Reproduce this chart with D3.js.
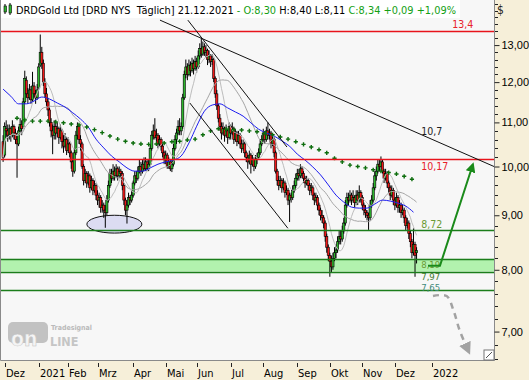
<!DOCTYPE html>
<meta charset="utf-8">
<title>DRDGold Ltd</title>
<style>
body { margin: 0; background: #f6efd9; }
svg { display: block; font-family: "DejaVu Sans Condensed", "DejaVu Sans", sans-serif; }
</style>
<body>
<script src="https://d3js.org/d3.v7.min.js"></script>
<script>

// daily candles [open, high, low, close], one array per month
var nov20 = [[10.55,10.70,10.10,10.20]];
var dec20 = [[10.25,11.00,10.20,10.90],[10.85,11.05,10.65,10.80],[10.80,10.95,10.55,10.70],[10.70,10.95,10.60,10.85],[10.85,10.90,10.55,10.70],
  [10.70,11.05,10.65,10.90],[10.90,10.95,10.60,10.75],[10.75,10.85,10.50,10.60],[10.60,10.75,9.76,10.50],[10.50,10.90,10.45,10.80],
  [10.80,11.10,10.75,10.95],[10.95,11.05,10.70,10.85],[10.90,11.60,10.85,11.50],[11.50,12.30,11.45,12.10],[12.05,12.15,11.60,11.70],
  [11.70,11.85,11.45,11.60],[11.60,11.95,11.55,11.80],[11.80,11.90,11.45,11.55],[11.55,12.27,11.50,11.90],[11.90,12.00,11.60,11.70],
  [11.70,11.80,11.45,11.60],[11.60,11.95,11.55,11.80]];
var jan21 = [[11.85,12.50,11.80,12.40],[12.45,13.30,12.40,12.80],[12.80,12.95,12.35,12.50],[12.50,12.60,11.90,12.00],[12.00,12.10,11.60,11.70],
  [11.70,11.85,11.40,11.50],[11.50,11.60,11.15,11.30],[11.30,11.35,10.90,11.00],[11.00,11.10,10.65,10.80],[10.80,10.95,10.27,10.70],
  [10.70,11.05,10.60,10.90],[10.90,11.00,10.60,10.75],[10.75,11.00,10.65,10.85],[10.85,10.90,10.50,10.65],[10.65,10.95,10.60,10.80],
  [10.80,10.85,10.40,10.55],[10.55,10.70,10.30,10.45],[10.45,10.75,10.40,10.60],[10.60,10.65,10.25,10.35]];
var feb21 = [[10.35,10.65,10.30,10.50],[10.50,10.55,10.20,10.30],[10.30,10.35,9.95,10.10],[10.10,10.15,9.78,9.90],[9.90,10.40,9.85,10.30],
  [10.30,10.80,10.25,10.70],[10.70,11.00,10.60,10.90],[10.90,10.95,10.50,10.60],[10.60,10.70,10.35,10.50],[10.50,10.55,9.95,10.00],
  [10.00,10.05,9.60,9.70],[9.70,9.95,9.65,9.85],[9.85,9.90,9.55,9.65],[9.65,9.90,9.60,9.80],[9.80,9.85,9.45,9.55],
  [9.55,9.80,9.50,9.70],[9.70,9.75,9.40,9.50],[9.50,9.70,9.45,9.60],[9.60,9.65,9.30,9.40]];
var mar21 = [[9.40,9.50,9.20,9.30],[9.30,9.45,9.15,9.35],[9.35,9.40,9.05,9.15],[9.15,9.30,9.05,9.20],[9.20,9.25,8.95,9.10],
  [9.10,9.20,8.76,9.05],[9.05,9.40,9.00,9.30],[9.30,9.70,9.25,9.60],[9.60,9.95,9.55,9.85],[9.85,9.95,9.65,9.75],
  [9.75,10.05,9.70,9.90],[9.90,10.00,9.70,9.80],[9.80,10.05,9.75,9.95],[9.95,10.00,9.70,9.80],[9.80,10.00,9.75,9.90],
  [9.90,9.95,9.75,9.85],[9.85,9.90,9.50,9.60],[9.60,9.65,9.20,9.30],[9.30,9.35,9.00,9.10],[9.10,9.30,8.84,9.20],
  [9.20,9.45,9.15,9.35],[9.35,9.40,9.20,9.30],[9.30,9.50,9.25,9.40]];
var apr21 = [[9.40,9.70,9.35,9.65],[9.65,9.90,9.60,9.80],[9.80,9.90,9.65,9.75],[9.75,10.00,9.70,9.90],[9.90,10.15,9.85,10.00],
  [10.00,10.10,9.80,9.90],[9.90,10.15,9.85,10.05],[10.05,10.20,9.90,9.95],[9.95,10.20,9.90,10.10],[10.10,10.15,9.90,9.95],
  [9.95,10.15,9.90,10.05],[10.05,10.50,10.00,10.40],[10.40,10.80,10.35,10.70],[10.70,10.95,10.60,10.80],[10.80,11.10,10.60,10.65],
  [10.65,10.85,10.55,10.70],[10.70,10.75,10.40,10.50],[10.50,10.70,10.45,10.60],[10.60,10.65,10.35,10.45],[10.45,10.50,10.20,10.30],
  [10.30,10.35,10.05,10.15]];
var may21 = [[10.15,10.35,10.05,10.25],[10.25,10.30,9.95,10.00],[10.00,10.20,9.95,10.10],[10.10,10.15,9.90,9.95],[9.95,10.15,9.88,10.05],
  [10.05,10.50,10.00,10.40],[10.40,10.70,10.35,10.60],[10.60,10.85,10.50,10.75],[10.75,11.05,10.70,10.90],[10.90,11.10,10.70,10.80],
  [10.80,11.00,10.70,10.90],[10.90,11.70,10.85,11.60],[11.60,12.30,11.55,12.20],[12.20,12.60,12.10,12.40],[12.40,12.50,12.05,12.20],
  [12.20,12.60,12.15,12.45],[12.45,12.55,12.15,12.30],[12.30,12.65,12.25,12.50],[12.50,12.60,12.20,12.35],[12.35,12.70,12.30,12.55]];
var jun21 = [[12.55,12.65,12.25,12.40],[12.40,12.85,12.35,12.70],[12.70,13.05,12.60,12.90],[12.90,13.20,12.65,12.75],[12.75,13.10,12.70,12.95],
  [12.95,13.05,12.70,12.80],[12.80,13.00,12.65,12.85],[12.85,12.90,12.45,12.60],[12.60,12.85,12.50,12.70],[12.70,12.75,12.40,12.55],
  [12.55,12.75,12.45,12.60],[12.60,12.65,12.00,12.10],[12.10,12.15,11.60,11.70],[11.70,11.80,11.30,11.40],[11.40,11.45,11.00,11.10],
  [11.10,11.20,10.80,10.90],[10.90,11.00,10.60,10.75],[10.75,11.00,10.70,10.85],[10.85,10.90,10.55,10.70],[10.70,10.95,10.65,10.80],
  [10.80,10.85,10.50,10.65],[10.65,11.00,10.60,10.90]];
var jul21 = [[10.90,10.95,10.60,10.75],[10.75,11.00,10.70,10.85],[10.85,10.90,10.50,10.60],[10.60,10.85,10.55,10.75],[10.75,10.80,10.45,10.55],
  [10.55,10.80,10.50,10.70],[10.70,10.75,10.40,10.50],[10.50,10.60,10.30,10.40],[10.40,10.60,10.35,10.50],[10.50,10.55,10.20,10.30],
  [10.30,10.35,10.10,10.20],[10.20,10.25,9.95,10.10],[10.10,10.35,10.05,10.25],[10.25,10.30,9.85,10.05],[10.05,10.25,10.00,10.15],
  [10.15,10.20,9.90,10.00],[10.00,10.25,9.95,10.15],[10.15,10.30,10.05,10.20],[10.20,10.40,10.15,10.30],[10.30,10.60,10.25,10.50],
  [10.50,10.70,10.45,10.60]];
var aug21 = [[10.60,10.85,10.55,10.75],[10.75,10.80,10.50,10.60],[10.60,10.90,10.55,10.80],[10.80,11.00,10.60,10.70],[10.70,10.85,10.60,10.75],
  [10.75,10.80,10.40,10.50],[10.50,10.70,10.45,10.60],[10.60,10.65,10.20,10.30],[10.30,10.35,9.85,9.90],[9.90,9.95,9.60,9.70],
  [9.70,9.80,9.50,9.60],[9.60,9.80,9.55,9.70],[9.70,9.75,9.45,9.55],[9.55,9.75,9.50,9.65],[9.65,9.70,9.35,9.45],
  [9.45,9.60,9.40,9.50],[9.50,9.55,9.20,9.30],[9.30,9.45,8.87,9.40],[9.40,9.45,9.25,9.35],[9.35,9.60,9.30,9.50],
  [9.50,9.70,9.45,9.60],[9.60,9.85,9.55,9.75]];
var sep21 = [[9.75,9.95,9.70,9.85],[9.85,9.95,9.70,9.80],[9.80,10.05,9.75,9.95],[9.95,10.00,9.75,9.85],[9.85,9.90,9.65,9.75],
  [9.75,9.80,9.55,9.65],[9.65,9.80,9.60,9.70],[9.70,9.75,9.50,9.60],[9.60,9.65,9.40,9.50],[9.50,9.65,9.45,9.55],
  [9.55,9.60,9.30,9.40],[9.40,9.45,9.20,9.30],[9.30,9.45,9.25,9.35],[9.35,9.40,9.10,9.20],[9.20,9.25,9.00,9.10],
  [9.10,9.15,8.90,9.00],[9.00,9.10,8.85,8.95],[8.95,9.00,8.75,8.85],[8.85,8.90,8.50,8.60],[8.60,8.65,8.30,8.40],
  [8.40,8.45,8.15,8.25]];
var oct21 = [[8.25,8.30,7.88,8.15],[8.15,8.25,7.95,8.05],[8.05,8.30,8.00,8.20],[8.20,8.40,8.15,8.30],[8.30,8.45,8.20,8.35],
  [8.35,8.60,8.30,8.50],[8.50,8.70,8.45,8.60],[8.60,8.70,8.45,8.55],[8.55,8.80,8.50,8.70],[8.70,8.95,8.65,8.85],
  [8.85,9.30,8.80,9.20],[9.20,9.45,9.15,9.35],[9.35,9.45,9.20,9.30],[9.30,9.50,9.25,9.40],[9.40,9.45,9.20,9.30],
  [9.30,9.50,9.25,9.35],[9.35,9.40,9.15,9.25],[9.25,9.50,9.20,9.40],[9.40,9.50,9.20,9.30],[9.30,9.60,9.25,9.45],
  [9.45,9.50,9.25,9.35]];
var nov21 = [[9.35,9.40,9.10,9.20],[9.20,9.25,9.00,9.10],[9.10,9.20,8.95,9.05],[9.05,9.10,8.90,9.00],[9.00,9.05,8.72,8.95],
  [8.95,9.30,8.90,9.20],[9.20,9.40,9.15,9.30],[9.30,9.65,9.25,9.55],[9.55,9.90,9.50,9.80],[9.80,10.00,9.70,9.90],
  [9.90,10.15,9.85,10.05],[10.05,10.15,9.90,10.00],[10.00,10.22,9.95,10.10],[10.10,10.15,9.85,9.90],[9.90,9.95,9.65,9.75],
  [9.75,9.95,9.70,9.85],[9.85,9.90,9.55,9.65],[9.65,9.70,9.45,9.55],[9.55,9.60,9.30,9.40],[9.40,9.60,9.35,9.50],
  [9.50,9.55,9.20,9.30]];
var dec21 = [[9.30,9.35,9.10,9.20],[9.20,9.45,9.15,9.35],[9.35,9.40,9.05,9.15],[9.15,9.30,9.05,9.20],[9.20,9.25,8.95,9.05],
  [9.05,9.20,9.00,9.10],[9.10,9.15,8.85,8.95],[8.95,9.00,8.70,8.80],[8.80,8.95,8.75,8.85],[8.85,8.90,8.55,8.65],
  [8.65,8.70,8.40,8.50],[8.50,8.55,8.20,8.30],[8.30,8.75,8.25,8.45],[8.45,8.50,7.88,8.25],[8.30,8.40,8.11,8.34]];

// blue average, read every 5 sessions from the first one
var blueAvg = [11.82,11.64,11.45,11.45,11.52,11.62,11.57,11.47,11.37,11.23,11.08,10.89,10.61,10.41,10.23,10.10,9.97,9.90,9.90,9.97,
  10.05,10.10,10.14,10.23,10.52,10.91,11.27,11.42,11.45,11.35,11.25,11.15,10.99,10.84,10.75,10.68,10.57,10.45,10.27,10.14,
  9.99,9.82,9.61,9.40,9.26,9.16,9.14,9.14,9.22,9.30,9.28,9.24,9.18,9.06];
// dotted green average, one cross every 5 sessions from session 9
var greenAvg = [11.10,11.06,11.03,11.03,11.03,11.01,10.99,10.96,10.94,10.89,10.83,10.76,10.68,10.61,10.56,10.52,10.50,10.49,10.50,10.52,
  10.55,10.56,10.59,10.61,10.71,10.80,10.85,10.84,10.83,10.82,10.80,10.78,10.75,10.71,10.66,10.61,10.55,10.49,10.43,10.37,
  10.30,10.18,10.10,10.03,10.00,9.97,9.93,9.90,9.87,9.84,9.79,9.73];

// time axis: session index of each month start
var monthLabels = ["Dez", "2021", "Feb", "Mrz", "Apr", "Mai", "Jun", "Jul", "Aug", "Sep", "Okt", "Nov", "Dez", "2022"];
var monthStarts = [1, 23, 42, 61, 84, 105, 125, 147, 168, 190, 211, 232, 253, 277];
var priceTicks = [7, 8, 9, 10, 11, 12, 13];

// drawn levels and annotations
var redLevels = [13.4, 10.17];
var greenLevels = [8.72, 7.65];
var zone = [7.97, 8.19];
var levelLabels = [
  {text: "13,4", i: 290, p: 13.4, dy: -3, size: 10.5, color: "#e8202a"},
  {text: "10,7", i: 270, p: 10.7, dy: 0, size: 10.5, color: "#222"},
  {text: "10,17", i: 270, p: 10.17, dy: 11, size: 10.5, color: "#e8202a"},
  {text: "8,72", i: 270, p: 8.72, dy: -1.5, size: 10.5, color: "#6a9a34"},
  {text: "8,19", i: 270, p: 8.19, dy: 9.5, size: 9.5, color: "#6a9a34"},
  {text: "7,97", i: 270, p: 7.97, dy: 8, size: 9.5, color: "#3f7a2e"},
  {text: "7,65", i: 270, p: 7.65, dy: 0.5, size: 9.5, color: "#3f8a7a"}];
var trendLines = [
  [[101.3, 13.72], [317, 10.0]],
  [[119.3, 13.72], [183.3, 10.43]],
  [[120.6, 11.47], [183.9, 8.75]]];
var upArrow = [[274.4, 8.07], [282.1, 8.07], [303.4, 10.05]];
var downArrow = [[277.6, 7.56], [286.4, 7.56], [290.8, 7.33], [294.8, 7.02], [300.9, 6.69]];
var ellipseBox = {i0: 54.1, i1: 89.6, lo: 8.66, hi: 9.0};

var width = 529, height = 380,
    plotW = 494, plotH = 360;

var bars = [].concat(nov20, dec20, jan21, feb21, mar21, apr21, may21, jun21, jul21, aug21, sep21, oct21, nov21, dec21)
  .map(function(d, i) { return {i: i, o: d[0], h: d[1], l: d[2], c: d[3]}; });

var x = d3.scaleLinear().domain([-2, 317]).range([0, plotW]);
var y = d3.scaleLog().domain([6.583, 14.33]).range([plotH, 0]);

var svg = d3.select("body").append("svg")
    .attr("width", width)
    .attr("height", height);

svg.append("rect").attr("width", width).attr("height", height).attr("fill", "#f6efd9");
svg.append("rect").attr("width", plotW).attr("height", plotH).attr("fill", "#f7f7f7");

svg.append("clipPath").attr("id", "plot")
  .append("rect").attr("width", plotW).attr("height", plotH);

var g = svg.append("g").attr("clip-path", "url(#plot)");

// support zone
g.append("rect")
    .attr("x", 0).attr("width", plotW)
    .attr("y", y(zone[1])).attr("height", y(zone[0]) - y(zone[1]))
    .attr("fill", "#b2f2ae");

// double bottom mark
g.append("ellipse")
    .attr("cx", (x(ellipseBox.i0) + x(ellipseBox.i1)) / 2)
    .attr("cy", (y(ellipseBox.lo) + y(ellipseBox.hi)) / 2)
    .attr("rx", (x(ellipseBox.i1) - x(ellipseBox.i0)) / 2)
    .attr("ry", (y(ellipseBox.lo) - y(ellipseBox.hi)) / 2)
    .attr("fill", "#dcdcf2")
    .attr("stroke", "#111")
    .attr("stroke-width", 1);

// candles
var candle = g.append("g").selectAll("g")
  .data(bars)
  .enter().append("g");

candle.append("line")
    .attr("x1", function(d) { return x(d.i); })
    .attr("x2", function(d) { return x(d.i); })
    .attr("y1", function(d) { return y(d.h); })
    .attr("y2", function(d) { return y(d.l); })
    .attr("stroke", "#000")
    .attr("stroke-width", 1);

candle.append("rect")
    .attr("x", function(d) { return x(d.i) - 1.1; })
    .attr("width", 2.2)
    .attr("y", function(d) { return y(Math.max(d.o, d.c)); })
    .attr("height", function(d) { return Math.max(1, Math.abs(y(d.o) - y(d.c))); })
    .attr("fill", function(d) { return d.c >= d.o ? "#2db52d" : "#f01818"; })
    .attr("stroke", "#000")
    .attr("stroke-width", 0.6);

// short averages follow the closes
function sma(n) {
  return bars.map(function(d, i) {
    var w = bars.slice(Math.max(0, i - n + 1), i + 1);
    return {i: d.i, v: d3.mean(w, function(b) { return b.c; })};
  });
}

var avgLine = d3.line()
    .x(function(d) { return x(d.i); })
    .y(function(d) { return y(d.v); });

g.append("path").datum(sma(30))
    .attr("d", avgLine).attr("fill", "none")
    .attr("stroke", "#a4a4a4").attr("stroke-width", 1);
g.append("path").datum(sma(10))
    .attr("d", avgLine).attr("fill", "none")
    .attr("stroke", "#bdbdbd").attr("stroke-width", 1);

g.append("path")
    .datum(blueAvg.map(function(v, k) { return {i: k * 5, v: v}; }))
    .attr("d", avgLine.curve(d3.curveMonotoneX))
    .attr("fill", "none")
    .attr("stroke", "#1c1cf0")
    .attr("stroke-width", 1);

g.append("g").selectAll("path")
  .data(greenAvg)
  .enter().append("path")
    .attr("transform", function(v, k) { return "translate(" + x(9 + k * 5) + "," + y(v) + ")"; })
    .attr("d", d3.symbol(d3.symbolCross, 10))
    .attr("fill", "#0d6d0d");

// horizontal levels
g.append("g").selectAll("line")
  .data(redLevels.map(function(p) { return {p: p, c: "#e8141c"}; })
    .concat(greenLevels.concat(zone).map(function(p) { return {p: p, c: "#1b7d1b"}; })))
  .enter().append("line")
    .attr("x1", 0).attr("x2", plotW)
    .attr("y1", function(d) { return Math.round(y(d.p)) + 0.5; })
    .attr("y2", function(d) { return Math.round(y(d.p)) + 0.5; })
    .attr("stroke", function(d) { return d.c; })
    .attr("stroke-width", 1.5);

// trend lines
g.append("g").selectAll("line")
  .data(trendLines)
  .enter().append("line")
    .attr("x1", function(d) { return x(d[0][0]); })
    .attr("y1", function(d) { return y(d[0][1]); })
    .attr("x2", function(d) { return x(d[1][0]); })
    .attr("y2", function(d) { return y(d[1][1]); })
    .attr("stroke", "#111")
    .attr("stroke-width", 1);

// level labels
g.append("g").selectAll("text")
  .data(levelLabels)
  .enter().append("text")
    .attr("x", function(d) { return x(d.i); })
    .attr("y", function(d) { return y(d.p) + d.dy; })
    .attr("font-size", function(d) { return d.size; })
    .attr("fill", function(d) { return d.color; })
    .text(function(d) { return d.text; });

// arrows
var defs = svg.append("defs");
[["headGreen", "#1a8a1a"], ["headGray", "#a2a2a2"]].forEach(function(m) {
  defs.append("marker")
      .attr("id", m[0])
      .attr("viewBox", "0 0 10 10")
      .attr("refX", 8).attr("refY", 5)
      .attr("markerWidth", 5).attr("markerHeight", 5)
      .attr("markerUnits", "strokeWidth")
      .attr("orient", "auto")
    .append("path")
      .attr("d", "M0,0L10,5L0,10z")
      .attr("fill", m[1]);
});

var arrowLine = d3.line()
    .x(function(d) { return x(d[0]); })
    .y(function(d) { return y(d[1]); });

g.append("path").datum(upArrow)
    .attr("d", arrowLine)
    .attr("fill", "none")
    .attr("stroke", "#1a8a1a")
    .attr("stroke-width", 2)
    .attr("marker-end", "url(#headGreen)");

g.append("path").datum(downArrow)
    .attr("d", arrowLine.curve(d3.curveCatmullRom))
    .attr("fill", "none")
    .attr("stroke", "#a2a2a2")
    .attr("stroke-width", 2.5)
    .attr("stroke-dasharray", "6,5")
    .attr("marker-end", "url(#headGray)");

// logo
var logo = g.append("g").attr("opacity", 0.85);
logo.append("rect").attr("x", 8).attr("y", 322).attr("width", 40).attr("height", 21).attr("rx", 5).attr("fill", "#b9b9b9");
logo.append("text").attr("x", 11).attr("y", 346).attr("font-size", 21).attr("font-weight", "bold")
    .attr("fill", "#f4f4f4").attr("stroke", "#b9b9b9").attr("stroke-width", 0.5).text("on");
logo.append("text").attr("x", 50).attr("y", 346).attr("font-size", 12.5).attr("font-weight", "bold")
    .attr("fill", "#bdbdbd").text("LINE");
logo.append("text").attr("x", 51).attr("y", 330).attr("font-size", 7).attr("font-weight", "bold")
    .attr("fill", "#b0b0b0").text("Tradesignal");

// header
var head = svg.append("g");
var headBox = head.append("rect").attr("x", 0).attr("y", 0).attr("height", 18).attr("fill", "#fff");
var headText = head.append("text").attr("x", 16).attr("y", 14).attr("font-size", 11);
[["DRDGold Ltd [DRD NYS  Täglich] 21.12.2021 ", "#000"], ["- O:8,30", "#14a014"],
 [" H:8,40 L:8,11 ", "#000"], ["C:8,34 +0,09 +1,09%", "#14a014"]].forEach(function(s) {
  headText.append("tspan").attr("fill", s[1]).attr("xml:space", "preserve").text(s[0]);
});
var headLen = headText.node().getComputedTextLength();
if (headLen > 440) {
  headText.attr("textLength", 440).attr("lengthAdjust", "spacingAndGlyphs");
  headLen = 440;
}
headBox.attr("width", 16 + headLen + 4);

// header icon: two small candles
[[4, 4, 14, 6, 12], [9, 3, 15, 5, 13]].forEach(function(c) {
  head.append("line").attr("x1", c[0] + 1).attr("x2", c[0] + 1).attr("y1", c[1]).attr("y2", c[2]).attr("stroke", "#000");
  head.append("rect").attr("x", c[0]).attr("y", c[3]).attr("width", 2.5).attr("height", c[4] - c[3])
      .attr("fill", "#2db52d").attr("stroke", "#000").attr("stroke-width", 0.6);
});

svg.append("text").attr("x", 497).attr("y", 14).attr("font-size", 12).attr("fill", "#222").text("$");

// frame
svg.append("path")
    .attr("d", "M0.5,0V" + (plotH + 0.5) + "H" + (plotW + 0.5) + "V0")
    .attr("fill", "none").attr("stroke", "#8a8a8a");
svg.append("rect").attr("x", plotW - 10).attr("y", plotH - 10).attr("width", 10).attr("height", 10)
    .attr("fill", "#fff").attr("stroke", "#777");
svg.append("line").attr("x1", plotW - 8).attr("y1", plotH - 2).attr("x2", plotW - 2).attr("y2", plotH - 8).attr("stroke", "#555");

// right price axis
var yAxis = d3.axisRight(y)
    .tickValues(priceTicks)
    .tickFormat(function(d) { return d3.format(".2f")(d).replace(".", ","); })
    .tickSize(5)
    .tickPadding(2);
var ya = svg.append("g").attr("transform", "translate(" + (plotW + 0.5) + ",0)").call(yAxis);
ya.select(".domain").remove();
ya.selectAll("text").attr("font-size", 11).attr("fill", "#000").attr("font-family", null);
ya.selectAll("line").attr("stroke", "#222");

var minor = d3.range(66, 144, 2).map(function(v) { return v / 10; })
    .filter(function(v) { return priceTicks.indexOf(v) < 0; });
svg.append("g").selectAll("line")
  .data(minor)
  .enter().append("line")
    .attr("x1", plotW + 1).attr("x2", plotW + 4)
    .attr("y1", function(v) { return Math.round(y(v)) + 0.5; })
    .attr("y2", function(v) { return Math.round(y(v)) + 0.5; })
    .attr("stroke", "#222");

// bottom time axis
var xa = svg.append("g");
xa.selectAll("line")
  .data(monthStarts)
  .enter().append("line")
    .attr("x1", function(i) { return Math.round(x(i)) + 0.5; })
    .attr("x2", function(i) { return Math.round(x(i)) + 0.5; })
    .attr("y1", plotH + 3).attr("y2", plotH + 7)
    .attr("stroke", "#222");
xa.selectAll("text")
  .data(monthStarts)
  .enter().append("text")
    .attr("x", function(i) { return Math.round(x(i)) + 1; })
    .attr("y", plotH + 17)
    .attr("font-size", 11)
    .text(function(i, k) { return monthLabels[k]; });

</script>
</body>
